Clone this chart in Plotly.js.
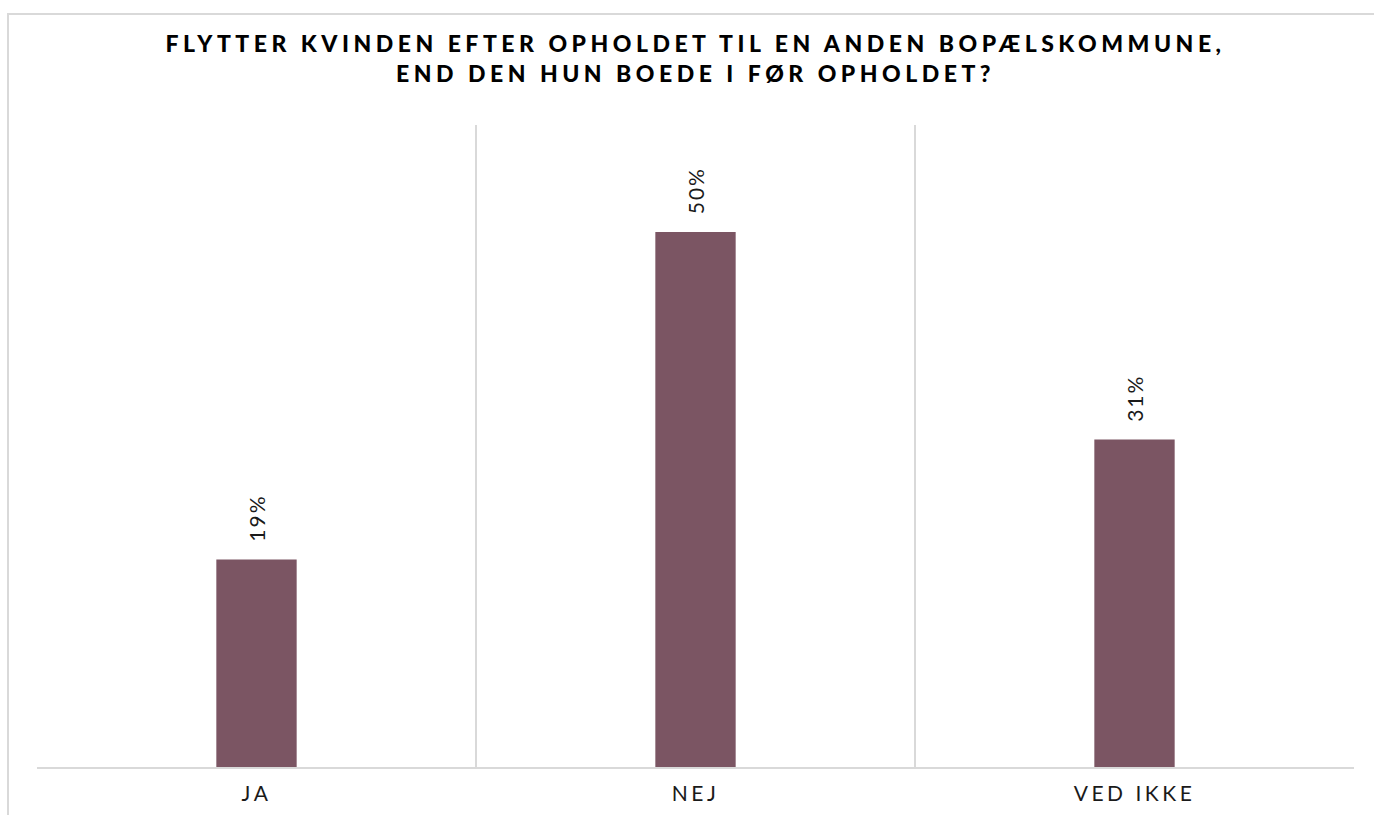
<!DOCTYPE html>
<html>
<head>
<meta charset="utf-8">
<script src="https://cdn.plot.ly/plotly-3.0.1.min.js"></script>
<style>
  html, body { margin:0; padding:0; background:#fff; }
  #frame { position:absolute; left:7px; top:13px; width:1500px; height:900px; border-left:2px solid #d9d9d9; border-top:2px solid #d9d9d9; }
  #chart { position:absolute; left:0; top:0; width:1374px; height:815px; }
  .gtitle { letter-spacing: 4.5px; }
  .xtick text { letter-spacing: 3.5px; }
  .bartext { letter-spacing: 2px; }
</style>
</head>
<body>
<div id="frame"></div>
<div id="chart"></div>
<script>
const categories = ["JA", "NEJ", "VED IKKE"];
const values = [19.4, 50, 30.6];
const labels = ["19%", "50%", "31%"];

const trace = {
  type: "bar",
  x: categories,
  y: values,
  text: labels.map(function (s) { return "\u00a0\u00a0" + s; }),
  textposition: "outside",
  textangle: -90,
  cliponaxis: false,
  width: 0.183,
  marker: { color: "#7b5563" },
  textfont: { family: "Lato, sans-serif", size: 21, color: "#1a1a1a" },
  hoverinfo: "skip"
};

const layout = {
  width: 1374,
  height: 815,
  paper_bgcolor: "rgba(0,0,0,0)",
  plot_bgcolor: "rgba(0,0,0,0)",
  margin: { l: 37, r: 20, t: 125, b: 48 },
  title: {
    text: "FLYTTER KVINDEN EFTER OPHOLDET TIL EN ANDEN BOPÆLSKOMMUNE,<br>END DEN HUN BOEDE I FØR OPHOLDET?",
    font: { family: "Lato, sans-serif", size: 23, color: "#000", weight: 900 },
    x: 0.5, xref: "paper", xanchor: "center",
    y: 0.936, yref: "container", yanchor: "top"
  },
  showlegend: false,
  xaxis: {
    type: "category",
    tickson: "boundaries",
    showgrid: true,
    gridcolor: "#d9d9d9",
    gridwidth: 2,
    showline: true,
    linecolor: "#d9d9d9",
    linewidth: 2,
    ticks: "",
    tickfont: { family: "Lato, sans-serif", size: 21, color: "#1a1a1a" },
    ticklabelstandoff: 7
  },
  yaxis: {
    range: [0, 60],
    showgrid: false,
    zeroline: false,
    showticklabels: false,
    showline: false,
    ticks: ""
  }
};

Plotly.newPlot("chart", [trace], layout, { displayModeBar: false, staticPlot: true });
</script>
</body>
</html>
